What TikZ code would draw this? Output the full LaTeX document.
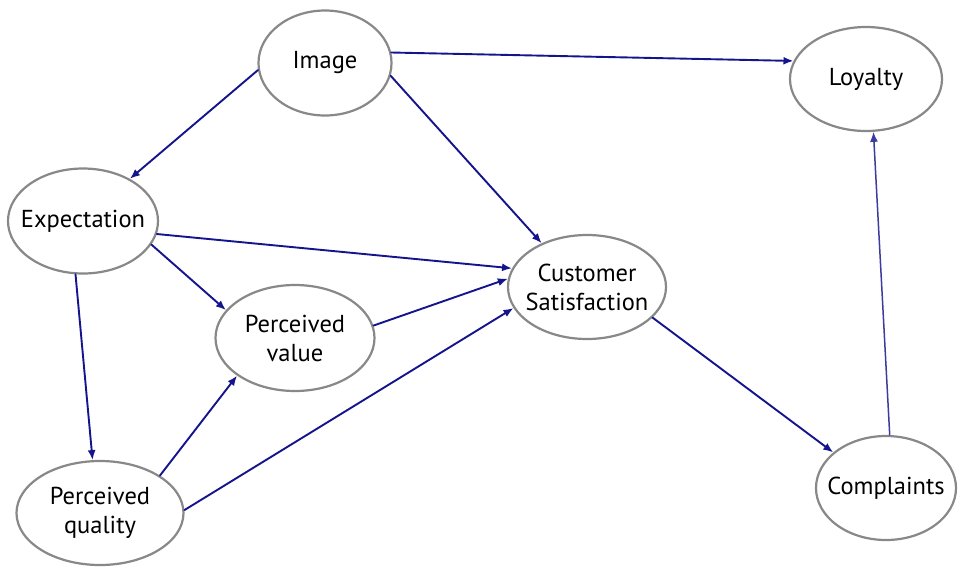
\documentclass[tikz,border=0pt]{standalone}
\usepackage{fontspec}
\setmainfont{PT Sans}
\usetikzlibrary{arrows.meta, shapes.geometric}
\definecolor{ring}{HTML}{888888}
\definecolor{navy}{HTML}{14148C}
\definecolor{navyl}{HTML}{3C3C9E}
\tikzset{el/.style={line cap=round, line join=round}}

\begin{document}
\begin{tikzpicture}[el, x=1pt, y=-1pt,
     bub/.style={ellipse, draw=ring, line width=2.2pt, fill=white, inner sep=-16pt,
        align=center, font=\fontsize{24.5}{29}\selectfont},
     ar/.style={-{Latex[length=10pt, width=8pt]}, navy, line width=1.9pt}]
     \useasboundingbox[fill=white] (0,0) rectangle (958,566);
     \node[bub, minimum width=133, minimum height=105] (img) at (325,63) {Image};
     \node[bub, minimum width=150, minimum height=105] (exp) at (83,221) {Expectation};
     \node[bub, minimum width=152, minimum height=104] (loy) at (866,79) {Loyalty};
     \node[bub, minimum width=158, minimum height=104] (cs) at (587,287) {Customer\\Satisfaction};
     \node[bub, minimum width=159, minimum height=106] (pv) at (295,338) {Perceived\\value};
     \node[bub, minimum width=167, minimum height=104] (pq) at (100,513) {Perceived\\quality};
     \node[bub, minimum width=140, minimum height=104] (cmp) at (886,488) {Complaints};
     \draw[ar] (img.9) -- (loy.166);
     \draw[ar] (img.-11) -- (cs.136);
     \draw[ar] (img.186) -- (exp.42);
     \draw[ar] (exp.-10) -- (cs.166);
     \draw[ar] (exp.-19) -- (pv.158);
     \draw[ar] (exp.-98) -- (pq.98);
     \draw[ar] (pv.9) -- (cs.174);
     \draw[ar] (pq.32) -- (pv.-147);
     \draw[ar] (pq.2) -- (cs.196);
     \draw[ar] (cs.-25) -- (cmp.146);
     \draw[ar, navyl, line width=1.5pt] (cmp.86) -- (loy.-82);
  \end{tikzpicture}
\end{document}
